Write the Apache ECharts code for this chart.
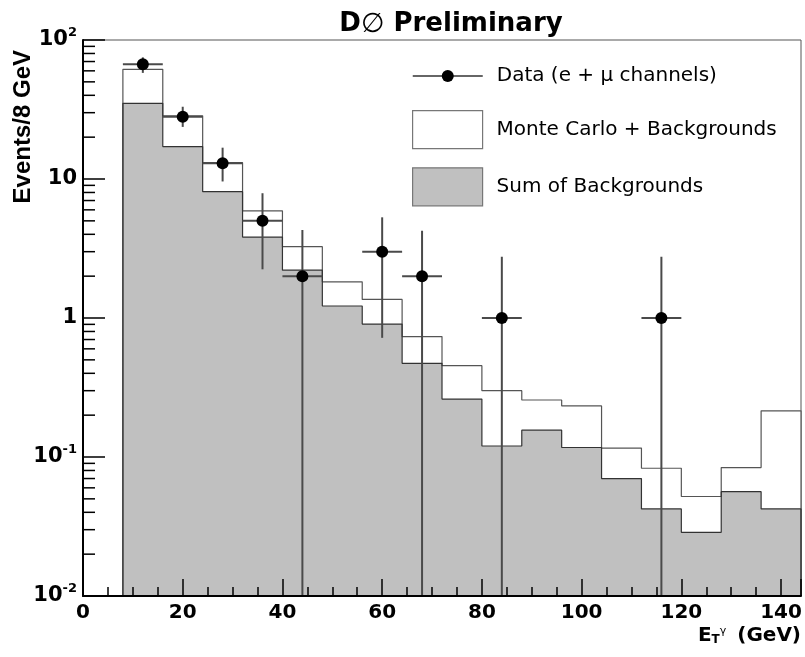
<!DOCTYPE html>
<html>
<head>
<meta charset="utf-8">
<style>
  html, body { margin: 0; padding: 0; background: #fff; }
  #chart { width: 805px; height: 657px; }
</style>
<script src="https://cdn.jsdelivr.net/npm/echarts@6/dist/echarts.min.js"></script>
</head>
<body>
<div id="chart"></div>
<script>
(function () {
  'use strict';

  // histogram bins (GeV), 8 GeV wide
  var BIN_WIDTH = 8;
  var binLow = [8, 16, 24, 32, 40, 48, 56, 64, 72, 80, 88, 96, 104, 112, 120, 128, 136];
  var mcPlusBkg = [61.5, 28.5, 13.1, 5.9, 3.26, 1.82, 1.36, 0.735, 0.454, 0.300, 0.257, 0.233, 0.116, 0.083, 0.052, 0.084, 0.215];
  var bkgSum = [35, 17.1, 8.1, 3.82, 2.21, 1.22, 0.905, 0.472, 0.261, 0.120, 0.156, 0.117, 0.070, 0.0423, 0.0287, 0.0563, 0.0423];

  // data points with error bars (0 = bar runs off the bottom)
  var dataX = [12, 20, 28, 36, 44, 60, 68, 84, 116];
  var dataY = [67, 28, 13, 5, 2, 3, 2, 1, 1];
  var dataLo = [58, 23.7, 9.6, 2.24, 0, 0.72, 0, 0, 0];
  var dataHi = [75, 33.1, 16.8, 7.9, 4.3, 5.3, 4.25, 2.76, 2.76];

  var X_MIN = 0, X_MAX = 144;
  var Y_MIN = 0.01, Y_MAX = 100;
  var yTickValues = [0.01, 0.1, 1, 10, 100];
  var yTickLabels = ['10{e|-2}', '10{e|-1}', '1', '10', '10{e|2}'];

  var DATA_NAME = 'Data (e + \u03bc channels)';
  var MC_NAME = 'Monte Carlo + Backgrounds';
  var BKG_NAME = 'Sum of Backgrounds';

  var FONT = 'DejaVu Sans';

  // minor ticks 2..9 in each decade
  var yMinor = [];
  for (var e = -2; e < 2; e++) {
    for (var m = 2; m <= 9; m++) yMinor.push([X_MIN, m * Math.pow(10, e)]);
  }

  function histPoints(values) {
    var last = binLow.length - 1;
    var pts = [[binLow[0], Y_MIN]];
    values.forEach(function (v, i) { pts.push([binLow[i], v]); });
    pts.push([binLow[last] + BIN_WIDTH, values[last]]);
    pts.push([binLow[last] + BIN_WIDTH, Y_MIN]);
    return pts;
  }

  function fmtY(v) {
    for (var i = 0; i < yTickValues.length; i++) {
      if (Math.abs(Math.log10(v) - Math.log10(yTickValues[i])) < 1e-6) return yTickLabels[i];
    }
    return '';
  }

  var chart = echarts.init(document.getElementById('chart'), null, { renderer: 'canvas' });

  chart.setOption({
    backgroundColor: '#fff',
    animation: false,
    title: {
      text: '{b|D}{o|\u2205}{b| Preliminary}',
      left: 446,
      textAlign: 'center',
      top: 6,
      textStyle: {
        rich: {
          b: { fontFamily: FONT, fontWeight: 'bold', fontSize: 26, color: '#000' },
          o: { fontFamily: FONT, fontWeight: 'normal', fontSize: 27, color: '#000' }
        }
      }
    },
    legend: [
      {
        data: [{ name: DATA_NAME, lineStyle: { color: '#333', width: 1.5, opacity: 1 }, itemStyle: { color: '#000' } }],
        left: 412, top: 66, padding: 0,
        itemWidth: 70, itemHeight: 15,
        selectedMode: false,
        textStyle: { fontFamily: FONT, fontSize: 20, color: '#000', padding: [0, 0, 0, 9] }
      },
      {
        data: [
          { name: MC_NAME, icon: 'rect', itemStyle: { color: '#fff', borderColor: '#777', borderWidth: 1.2 } },
          { name: BKG_NAME, icon: 'rect', itemStyle: { color: '#c0c0c0', borderColor: '#777', borderWidth: 1.2 } }
        ],
        orient: 'vertical',
        left: 412, top: 110, padding: 0,
        itemWidth: 70, itemHeight: 38, itemGap: 18,
        selectedMode: false,
        textStyle: { fontFamily: FONT, fontSize: 20, color: '#000', padding: [0, 0, 0, 9] }
      }
    ],
    grid: {
      left: 83, right: 4, top: 40, bottom: 61,
      show: true, borderColor: '#555', borderWidth: 1, backgroundColor: 'transparent',
      containLabel: false, outerBoundsMode: 'none'
    },
    xAxis: [
      {
        type: 'value', min: X_MIN, max: X_MAX, interval: 20, position: 'bottom', z: 5,
        axisLine: { show: true, lineStyle: { color: '#000', width: 2 } },
        axisTick: { show: true, inside: true, length: 17, lineStyle: { color: '#000', width: 1.5 } },
        splitLine: { show: false },
        axisLabel: {
          margin: 7, fontFamily: FONT, fontWeight: 'bold', fontSize: 20, color: '#000',
          formatter: function (v) { return v % 20 === 0 ? String(v) : ''; }
        },
        name: 'E{t|T}{g|\u03b3} (GeV)',
        nameLocation: 'end', nameGap: 0, nameMoveOverlap: false,
        nameTextStyle: {
          fontFamily: FONT, fontWeight: 'bold', fontSize: 20, color: '#000',
          align: 'right', verticalAlign: 'top', padding: [30, 0, 0, 0],
          rich: {
            t: { fontFamily: FONT, fontWeight: 'bold', fontSize: 12, color: '#000', verticalAlign: 'bottom', padding: [8, 0, 0, 0] },
            g: { fontFamily: FONT, fontWeight: 'normal', fontSize: 11, color: '#000', verticalAlign: 'top', padding: [0, 4, 8, 0] }
          }
        }
      },
      {
        type: 'value', min: X_MIN, max: X_MAX, interval: 5, position: 'bottom', z: 5,
        axisLine: { show: false },
        axisTick: { show: true, inside: true, length: 9, lineStyle: { color: '#000', width: 1.5 } },
        axisLabel: { show: false },
        splitLine: { show: false }
      }
    ],
    yAxis: {
      type: 'log', logBase: 10, min: Y_MIN, max: Y_MAX, z: 5,
      axisLine: { show: true, lineStyle: { color: '#000', width: 2 } },
      axisTick: { show: true, inside: true, length: 22, lineStyle: { color: '#000', width: 1.5 } },
      minorTick: { show: false },
      splitLine: { show: false },
      axisLabel: {
        margin: 6, formatter: fmtY,
        fontFamily: FONT, fontWeight: 'bold', fontSize: 21, color: '#000', lineHeight: 28,
        rich: { e: { fontFamily: FONT, fontWeight: 'bold', fontSize: 13, color: '#000', verticalAlign: 'top', lineHeight: 13 } }
      },
      name: 'Events/8 GeV',
      nameLocation: 'end', nameRotate: 90, nameGap: -10, nameMoveOverlap: false,
      nameTextStyle: {
        fontFamily: 'Liberation Sans', fontWeight: 'bold', fontSize: 24, color: '#000',
        align: 'right', verticalAlign: 'bottom', padding: [0, 0, 48, 0]
      }
    },
    series: [
      {
        name: MC_NAME, type: 'line', step: 'end', z: 2,
        data: histPoints(mcPlusBkg),
        showSymbol: false, silent: true,
        lineStyle: { color: '#555', width: 1.2 },
        itemStyle: { color: '#fff' },
        areaStyle: { color: '#fff', opacity: 1, origin: 'start' }
      },
      {
        name: BKG_NAME, type: 'line', step: 'end', z: 2,
        data: histPoints(bkgSum),
        showSymbol: false, silent: true,
        lineStyle: { color: '#333', width: 1.2 },
        itemStyle: { color: '#c0c0c0' },
        areaStyle: { color: '#c0c0c0', opacity: 1, origin: 'start' }
      },
      {
        name: 'errors', type: 'custom', z: 3, silent: true,
        data: dataX.map(function (x, i) { return [x, dataY[i], dataLo[i], dataHi[i]]; }),
        encode: { x: 0, y: 1 },
        renderItem: function (params, api) {
          var x = api.value(0), y = api.value(1);
          var lo = Math.max(api.value(2), Y_MIN), hi = api.value(3);
          var pLo = api.coord([x, lo]), pHi = api.coord([x, hi]);
          var pL = api.coord([x - BIN_WIDTH / 2, y]), pR = api.coord([x + BIN_WIDTH / 2, y]);
          var st = { stroke: '#4a4a4a', lineWidth: 2 };
          return {
            type: 'group',
            children: [
              { type: 'line', shape: { x1: pLo[0], y1: pLo[1], x2: pHi[0], y2: pHi[1] }, style: st },
              { type: 'line', shape: { x1: pL[0], y1: pL[1], x2: pR[0], y2: pR[1] }, style: st }
            ]
          };
        }
      },
      {
        name: DATA_NAME, type: 'line', z: 4, silent: true,
        data: dataX.map(function (x, i) { return [x, dataY[i]]; }),
        showSymbol: true, symbol: 'circle', symbolSize: 12,
        lineStyle: { opacity: 0 },
        itemStyle: { color: '#000' }
      },
      {
        name: 'minorTicks', type: 'custom', z: 6, silent: true,
        data: yMinor,
        encode: { x: 0, y: 1 },
        renderItem: function (params, api) {
          var p = api.coord([api.value(0), api.value(1)]);
          return { type: 'line', shape: { x1: p[0], y1: p[1], x2: p[0] + 12, y2: p[1] }, style: { stroke: '#000', lineWidth: 1.5 } };
        }
      }
    ]
  });
})();
</script>
</body>
</html>
